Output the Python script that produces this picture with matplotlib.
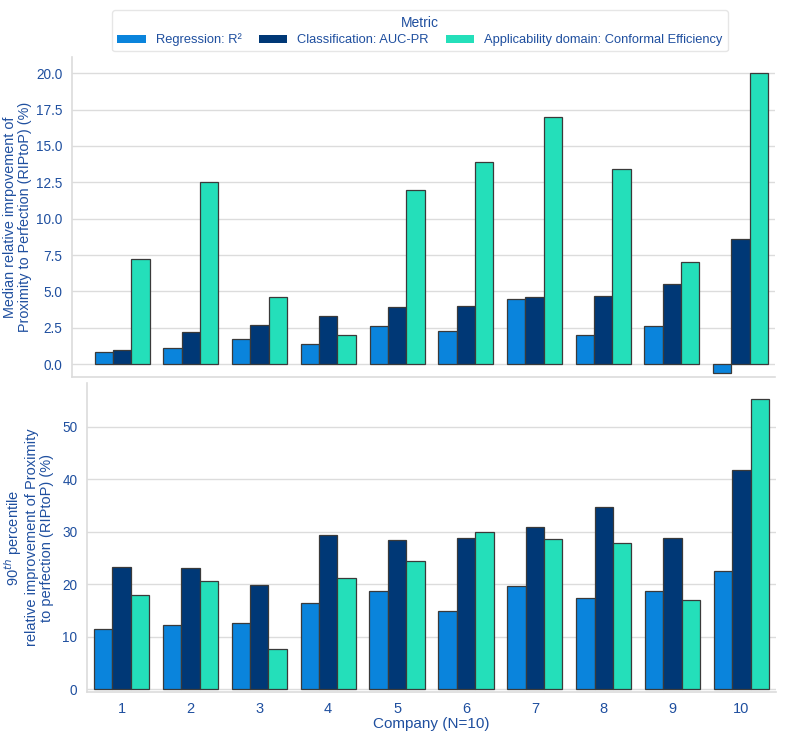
import matplotlib
matplotlib.use("Agg")
import matplotlib.pyplot as plt
import numpy as np
from matplotlib.patches import Patch

plt.rcParams['font.family'] = ['Liberation Sans', 'DejaVu Sans']

companies = ["1", "2", "3", "4", "5", "6", "7", "8", "9", "10"]
metrics = ["Regression: R²", "Classification: AUC-PR", "Applicability domain: Conformal Efficiency"]

median_r2 = [0.82, 1.1, 1.7, 1.4, 2.6, 2.3, 4.5, 2.0, 2.6, -0.6]
median_aucpr = [1.0, 2.2, 2.7, 3.3, 3.9, 4.0, 4.6, 4.7, 5.5, 8.6]
median_ce = [7.2, 12.5, 4.6, 2.0, 12.0, 13.9, 17.0, 13.4, 7.0, 20.0]

p90_r2 = [11.4, 12.2, 12.6, 16.3, 18.6, 14.8, 19.6, 17.3, 18.6, 22.4]
p90_aucpr = [23.3, 23.1, 19.8, 29.3, 28.3, 28.7, 30.9, 34.7, 28.7, 41.7]
p90_ce = [18.0, 20.6, 7.7, 21.1, 24.3, 29.9, 28.5, 27.8, 16.9, 55.3]

colors = ["#0a84dc", "#003876", "#24dfba"]
text_color = "#1f4f9f"
grid_color = "#dcdcdc"

W, H = 786, 738
fig = plt.figure(figsize=(W / 100, H / 100), dpi=100)

def px_axes(x0, y0, x1, y1):
    return fig.add_axes([x0 / W, 1 - y1 / H, (x1 - x0) / W, (y1 - y0) / H])

ax1 = px_axes(72, 57, 775, 377)
ax2 = px_axes(87, 383, 776, 692)

x = np.arange(len(companies))
bw = 0.8 / 3

def draw(ax, series):
    for i, (vals, c) in enumerate(zip(series, colors)):
        ax.bar(x + (i - 1) * bw, vals, width=bw, color=c, edgecolor="#3a3a3a",
               linewidth=0.9, zorder=3)
    ax.grid(axis="y", color=grid_color, linewidth=1.0, zorder=0)
    ax.grid(axis="x", visible=False)
    for s in ["top", "right"]:
        ax.spines[s].set_visible(False)
    for s in ["left", "bottom"]:
        ax.spines[s].set_color(grid_color)
        ax.spines[s].set_linewidth(1.2)
    ax.tick_params(axis="y", length=0, colors=text_color, labelsize=9.8, pad=7)
    ax.tick_params(axis="x", length=0, colors=text_color, labelsize=10.5, pad=7)

draw(ax1, [median_r2, median_aucpr, median_ce])
draw(ax2, [p90_r2, p90_aucpr, p90_ce])

ax1.set_xlim(-0.73, 9.5)
ax1.set_ylim(-0.89, 21.12)
ax1.set_yticks(np.arange(0, 20.01, 2.5))
ax1.set_yticklabels([f"{v:.1f}" for v in np.arange(0, 20.01, 2.5)])
ax1.set_xticks(x)
ax1.set_xticklabels([])
ax1.set_ylabel("Median relative imrpovement of\nProximity to Perfection (RIPtoP) (%)",
               color=text_color, fontsize=10.4, labelpad=3, linespacing=1.05)

ax2.set_xlim(-0.5, 9.5)
ax2.set_ylim(-0.57, 58.3)
ax2.set_yticks([0, 10, 20, 30, 40, 50])
ax2.set_xticks(x)
ax2.set_xticklabels(companies)
ax2.set_xlabel("Company (N=10)", color=text_color, fontsize=11, labelpad=1)
ax2.set_ylabel("90$^{th}$ percentile\nrelative improvement of Proximity\nto perfection (RIPtoP) (%)",
               color=text_color, fontsize=10.5, labelpad=6, linespacing=1.1)

handles = [Patch(facecolor=c, edgecolor="none") for c in colors]
leg = fig.legend(handles, metrics, title="Metric", ncol=3, loc="upper center",
                 bbox_to_anchor=(420 / W, 1 - 4 / H), fontsize=9.3, title_fontsize=10,
                 frameon=True, handlelength=2.2, handleheight=0.6, columnspacing=1.3,
                 borderpad=0.4, labelspacing=0.3)
leg.get_frame().set_edgecolor("#e0e0e0")
leg.get_frame().set_linewidth(1.0)
leg.get_title().set_color(text_color)
for t in leg.get_texts():
    t.set_color(text_color)

fig.savefig("out.png", dpi=100)
